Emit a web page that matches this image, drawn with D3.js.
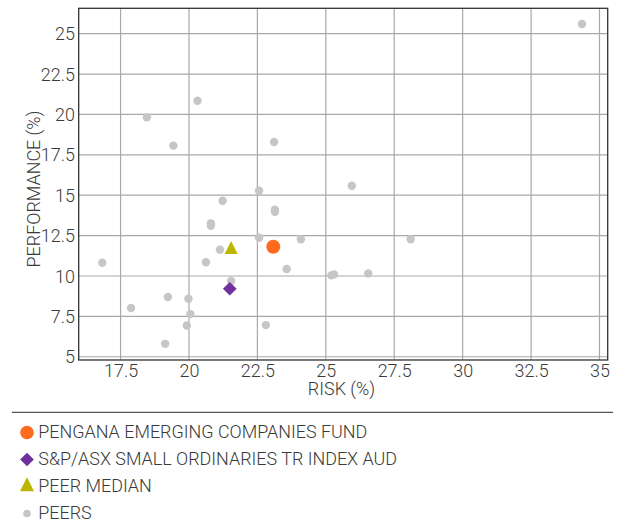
<!DOCTYPE html>
<html>
<head>
<meta charset="utf-8">
<script src="https://cdn.jsdelivr.net/npm/d3@7"></script>
<style>
  html, body { margin: 0; padding: 0; background: #fff; }
  svg { display: block; }
  text { font-family: "Roboto", "DejaVu Sans", sans-serif; font-weight: 300; fill: #3a3a3a; }
</style>
</head>
<body>
<svg id="chart" width="625" height="524"></svg>
<script>
// ---- data ----
const peerRisk = [34.36, 18.46, 19.43, 20.31, 23.11, 22.56, 21.23, 23.14, 23.14, 20.80, 20.80, 22.56, 24.09, 21.13, 20.62, 16.83, 23.57, 21.54, 19.23, 19.98, 17.88, 20.05, 19.92, 22.81, 19.13, 25.95, 28.10, 25.20, 25.30, 26.55];
const peerPerf = [25.60, 19.82, 18.07, 20.85, 18.29, 15.28, 14.66, 13.98, 14.10, 13.26, 13.11, 12.37, 12.27, 11.63, 10.85, 10.82, 10.43, 9.69, 8.70, 8.59, 8.02, 7.64, 6.94, 6.96, 5.80, 15.59, 12.27, 10.04, 10.10, 10.16];
const fund = { name: "PENGANA EMERGING COMPANIES FUND", risk: 23.08, perf: 11.81 };
const index = { name: "S&P/ASX SMALL ORDINARIES TR INDEX AUD", risk: 21.49, perf: 9.21 };
const median = { name: "PEER MEDIAN", risk: 21.54, perf: 11.63 };
const peersName = "PEERS";
const xTicks = [17.5, 20, 22.5, 25, 27.5, 30, 32.5, 35];
const yTicks = [5, 7.5, 10, 12.5, 15, 17.5, 20, 22.5, 25];
const xDomain = [15.97, 35.3];
const yDomain = [4.8, 26.57];

// ---- layout ----
const svg = d3.select("#chart");
const plot = { left: 78.7, right: 607.7, top: 8.3, bottom: 360 };
const x = d3.scaleLinear().domain(xDomain).range([plot.left, plot.right]);
const y = d3.scaleLinear().domain(yDomain).range([plot.bottom, plot.top]);
const FS = 19;

const colors = { fund: "#ff6a1e", index: "#7030a0", median: "#bdb600", peer: "#c6c6c6", grid: "#a9a9a9", frame: "#333" };

// horizontal condensing factor measured from the legend's first label
const probe = svg.append("text").attr("font-size", FS).text(fund.name);
const K = 329 / probe.node().getComputedTextLength();
probe.remove();

// grid
svg.append("g").selectAll("line").data(xTicks).join("line")
  .attr("x1", d => x(d)).attr("x2", d => x(d))
  .attr("y1", plot.top).attr("y2", plot.bottom)
  .attr("stroke", colors.grid).attr("stroke-width", 1.2);
svg.append("g").selectAll("line").data(yTicks).join("line")
  .attr("x1", plot.left).attr("x2", plot.right)
  .attr("y1", d => y(d)).attr("y2", d => y(d))
  .attr("stroke", colors.grid).attr("stroke-width", 1.2);

// axes (tick labels)
const xAxis = d3.axisBottom(x).tickValues(xTicks).tickSize(0).tickPadding(3.5).tickFormat(d3.format("~g"));
const gx = svg.append("g").attr("transform", `translate(0,${plot.bottom})`).call(xAxis);
gx.select(".domain").remove();

const yAxis = d3.axisLeft(y).tickValues(yTicks).tickSize(0).tickPadding(3.8 / K).tickFormat(d3.format("~g"));
const gy = svg.append("g").attr("transform", `translate(${plot.left},0)`).call(yAxis);
gy.select(".domain").remove();
svg.selectAll(".tick text")
  .attr("font-size", FS).attr("font-family", null)
  .attr("fill", "#3a3a3a").attr("transform", `scale(${K},1)`);

// frame
svg.append("rect")
  .attr("x", plot.left).attr("y", plot.top)
  .attr("width", plot.right - plot.left).attr("height", plot.bottom - plot.top)
  .attr("fill", "none").attr("stroke", colors.frame).attr("stroke-width", 1.3);

// axis titles
svg.append("text").attr("transform", `translate(341.5,395) scale(${K},1)`).attr("text-anchor", "middle")
  .attr("font-size", FS).text("RISK (%)");
svg.append("text").attr("transform", `translate(39.5,189) rotate(-90) scale(${K},1)`).attr("text-anchor", "middle")
  .attr("font-size", FS).text("PERFORMANCE (%)");

// custom triangle (equal width and height)
const triType = { draw(ctx, size) { const h = Math.sqrt(size); ctx.moveTo(0, -h * 2 / 3); ctx.lineTo(h / 2, h / 3); ctx.lineTo(-h / 2, h / 3); ctx.closePath(); } };

// peers
const peers = peerRisk.map((r, i) => ({ risk: r, perf: peerPerf[i] }));
svg.append("g").selectAll("circle").data(peers).join("circle")
  .attr("cx", d => x(d.risk)).attr("cy", d => y(d.perf)).attr("r", 4.2)
  .attr("fill", colors.peer);

// special points
svg.append("path").attr("d", d3.symbol(triType, 13 * 13)())
  .attr("transform", `translate(${x(median.risk)},${y(median.perf)})`).attr("fill", colors.median);
svg.append("path").attr("d", d3.symbol(d3.symbolDiamond2, 120)())
  .attr("transform", `translate(${x(index.risk)},${y(index.perf)})`).attr("fill", colors.index);
svg.append("circle").attr("cx", x(fund.risk)).attr("cy", y(fund.perf)).attr("r", 7).attr("fill", colors.fund);

// legend
svg.append("line").attr("x1", 12).attr("x2", 613).attr("y1", 412.3).attr("y2", 412.3)
  .attr("stroke", "#555").attr("stroke-width", 1.2);
const legend = [
  { name: fund.name, shape: "circle", color: colors.fund, size: 6.8 },
  { name: index.name, shape: "diamond", color: colors.index, size: 120 },
  { name: median.name, shape: "triangle", color: colors.median, size: 14 * 14 },
  { name: peersName, shape: "dot", color: colors.peer, size: 3.8 }
];
const lg = svg.append("g").selectAll("g").data(legend).join("g")
  .attr("transform", (d, i) => `translate(27,${432.5 + i * 27})`);
lg.each(function (d) {
  const g = d3.select(this);
  if (d.shape === "circle" || d.shape === "dot") g.append("circle").attr("r", d.size).attr("fill", d.color);
  else if (d.shape === "diamond") g.append("path").attr("d", d3.symbol(d3.symbolDiamond2, d.size)()).attr("fill", d.color);
  else g.append("path").attr("d", d3.symbol(triType, d.size)()).attr("fill", d.color);
  g.append("text").attr("transform", `translate(11.3,5.8) scale(${K},1)`).attr("font-size", FS).text(d.name);
});
</script>
</body>
</html>
